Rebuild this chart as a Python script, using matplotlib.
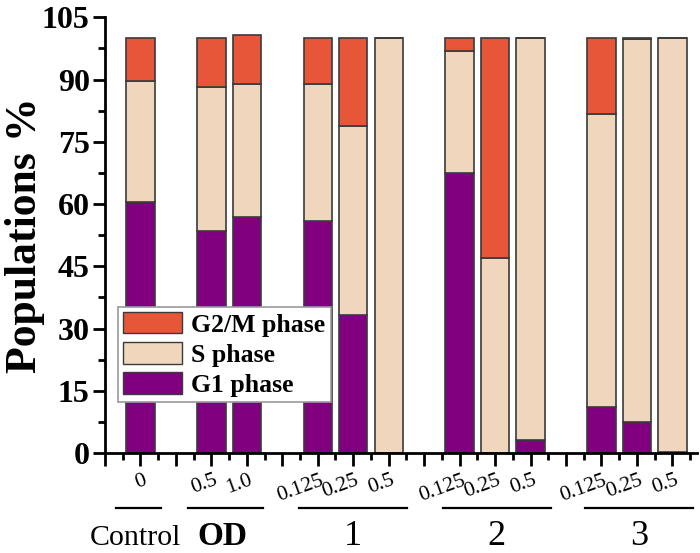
import matplotlib
matplotlib.use('Agg')
import matplotlib.pyplot as plt
import numpy as np
from matplotlib.ticker import MultipleLocator
from matplotlib.patches import Patch

plt.rcParams['font.family'] = ['Liberation Serif', 'DejaVu Serif']

# bar positions on the x axis and their dose labels
pos = [1, 3, 4, 6, 7, 8, 10, 11, 12, 14, 15, 16]
doses = ['0', '0.5', '1.0', '0.125', '0.25', '0.5',
         '0.125', '0.25', '0.5', '0.125', '0.25', '0.5']

# populations (%)
g1 = [60.5, 53.5, 56.8, 55.9, 33.2, 0.0, 67.5, 0.0, 3.1, 11.2, 7.5, 0.3]
s_top = [89.7, 88.1, 89.0, 88.8, 78.8, 100.0, 96.9, 47.1, 100.0, 81.8, 99.8, 100.0]
total = [100.0, 100.0, 100.8, 100.0, 100.0, 100.0, 100.0, 100.0, 100.0, 100.0, 100.0, 100.0]

groups = ['Control', 'OD', '1', '2', '3']
group_center = [0.95, 3.4, 7.0, 11.05, 15.05]
group_half = [0.63, 1.05, 1.52, 1.52, 1.52]

g1 = np.array(g1)
s = np.array(s_top) - g1
g2m = np.array(total) - np.array(s_top)

c_g1 = '#800080'
c_s = '#F0D6BC'
c_g2m = '#E8563A'
edge = '#3a3a3a'

fig = plt.figure(figsize=(7, 5.53), dpi=100)
ax = fig.add_axes([0.15, 0.1808, 0.846, 0.788])

w = 0.8
ax.bar(pos, g1, w, color=c_g1, edgecolor=edge, linewidth=1.2)
ax.bar(pos, s, w, bottom=g1, color=c_s, edgecolor=edge, linewidth=1.2)
ax.bar(pos, g2m, w, bottom=g1 + s, color=c_g2m, edgecolor=edge, linewidth=1.2)

ax.set_xlim(0, 16.7)
ax.set_ylim(0, 105)
ax.spines['top'].set_visible(False)
ax.spines['right'].set_visible(False)
ax.spines['left'].set_linewidth(2)
ax.spines['bottom'].set_linewidth(2)

ax.yaxis.set_major_locator(MultipleLocator(15))
ax.yaxis.set_minor_locator(MultipleLocator(7.5))
ax.xaxis.set_major_locator(MultipleLocator(1))
ax.xaxis.set_minor_locator(MultipleLocator(0.5))
ax.tick_params(which='major', length=9, width=2, direction='out')
ax.tick_params(which='minor', length=5, width=2, direction='out')
ax.set_xticklabels([])
for lab in ax.get_yticklabels():
    lab.set_fontsize(23)
    lab.set_fontweight('bold')
ax.tick_params(axis='y', pad=2)

tr = ax.get_xaxis_transform()
for p, d in zip(pos, doses):
    ax.text(p + 0.14, -0.062, d, transform=tr, rotation=20, fontsize=15.5,
            ha='right', va='center', rotation_mode='anchor')

for name, c, h in zip(groups, group_center, group_half):
    ax.plot([c - h, c + h], [-0.127, -0.127], transform=tr, color='black',
            lw=1.6, clip_on=False)
    if name == 'Control':
        ax.text(c - 0.1, -0.211, name, transform=tr, fontsize=21.5,
                ha='center', va='baseline')
    elif name == 'OD':
        ax.text(c - 0.1, -0.211, name, transform=tr, fontsize=24, fontweight='bold',
                ha='center', va='baseline')
    else:
        ax.text(c, -0.211, name, transform=tr, fontsize=26, ha='center', va='baseline')

fig.text(0.036, 0.575, 'Populations %', rotation=90, fontsize=31.5,
         fontweight='bold', ha='center', va='center')

handles = [Patch(facecolor=c_g2m, edgecolor=edge, label='G2/M phase'),
           Patch(facecolor=c_s, edgecolor=edge, label='S phase'),
           Patch(facecolor=c_g1, edgecolor=edge, label='G1 phase')]
leg = ax.legend(handles=handles, loc='lower left', bbox_to_anchor=(0.022, 0.117),
                borderaxespad=0, fancybox=False, framealpha=1, edgecolor='#999999',
                prop={'size': 18.5, 'weight': 'bold'}, handlelength=2.3,
                handleheight=0.9, handletextpad=0.35, labelspacing=0.22,
                borderpad=0.2)
leg.get_frame().set_linewidth(1.2)

fig.savefig('out.png', dpi=100)
